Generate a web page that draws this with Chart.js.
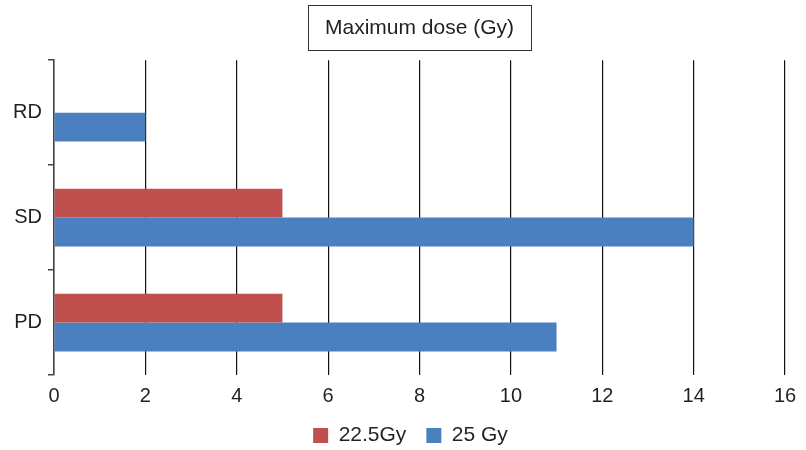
<!DOCTYPE html>
<html>
<head>
<meta charset="utf-8">
<script src="https://cdn.jsdelivr.net/npm/chart.js@4/dist/chart.umd.min.js"></script>
<style>
  html, body { margin: 0; padding: 0; background: #fff; }
  #wrap { width: 806px; height: 450px; }
</style>
</head>
<body>
<div id="wrap"><canvas id="c" width="806" height="450"></canvas></div>
<script>
// Response categories and maximum dose per fractionation scheme
const categories = ['RD', 'SD', 'PD'];
const dose225 = [null, 5, 5];
const dose25 = [2, 14, 11];
const xTicks = [0, 2, 4, 6, 8, 10, 12, 14, 16];
const seriesNames = ['22.5Gy', '25 Gy'];

const FONT = 'Liberation Sans, Arial, Helvetica, sans-serif';
const INK = '#231f20';

// Draws a framed box around the chart title
const titleFrame = {
  id: 'titleFrame',
  afterDraw(chart) {
    const tb = chart.titleBlock;
    if (!tb) return;
    const ctx = chart.ctx;
    ctx.save();
    ctx.font = '21px ' + FONT;
    const w = ctx.measureText(chart.options.plugins.title.text).width;
    const cx = (tb.left + tb.right) / 2;
    const bw = w + 34;
    ctx.strokeStyle = '#333';
    ctx.lineWidth = 1;
    ctx.strokeRect(Math.round(cx - bw / 2) + 0.5, 5.5, Math.round(bw), 45);
    ctx.restore();
  }
};

// Nudges the legend row slightly left of the plot centre
const legendShift = {
  id: 'legendShift',
  afterLayout(chart) {
    if (chart.legend) {
      chart.legend.left -= 9;
      chart.legend.right -= 9;
    }
  }
};

new Chart(document.getElementById('c'), {
  type: 'bar',
  data: {
    labels: categories,
    datasets: [
      { label: seriesNames[0], data: dose225, backgroundColor: '#c0504d' },
      { label: seriesNames[1], data: dose25, backgroundColor: '#4a80c0' }
    ]
  },
  options: {
    indexAxis: 'y',
    responsive: false,
    animation: false,
    layout: { padding: { left: 0, right: 21, top: 0, bottom: -6 } },
    datasets: { bar: { barPercentage: 1.0, categoryPercentage: 0.55 } },
    scales: {
      x: {
        min: 0, max: 16,
        afterBuildTicks(scale) { scale.ticks = xTicks.map(v => ({ value: v })); },
        afterFit(scale) { scale.height = 30; },
        grid: { color: '#111', lineWidth: 1.2, drawTicks: false },
        border: { display: false },
        ticks: { color: INK, font: { family: FONT, size: 20 }, padding: 9 }
      },
      y: {
        afterFit(scale) { scale.width = 54; },
        grid: { drawOnChartArea: false, drawTicks: true, tickLength: 6, color: '#444', lineWidth: 1.5, offset: true },
        border: { display: true, color: '#444', width: 1.5 },
        ticks: { color: INK, font: { family: FONT, size: 20 }, padding: 6 }
      }
    },
    plugins: {
      title: {
        display: true,
        fullSize: false,
        text: 'Maximum dose (Gy)',
        color: INK,
        font: { family: FONT, size: 21, weight: 'normal' },
        padding: { top: 16, bottom: 19 }
      },
      legend: {
        position: 'bottom',
        fullSize: false,
        labels: {
          color: INK,
          font: { family: FONT, size: 21 },
          boxWidth: 15, boxHeight: 15,
          padding: 20
        }
      },
      tooltip: { enabled: false }
    }
  },
  plugins: [titleFrame, legendShift]
});
</script>
</body>
</html>
